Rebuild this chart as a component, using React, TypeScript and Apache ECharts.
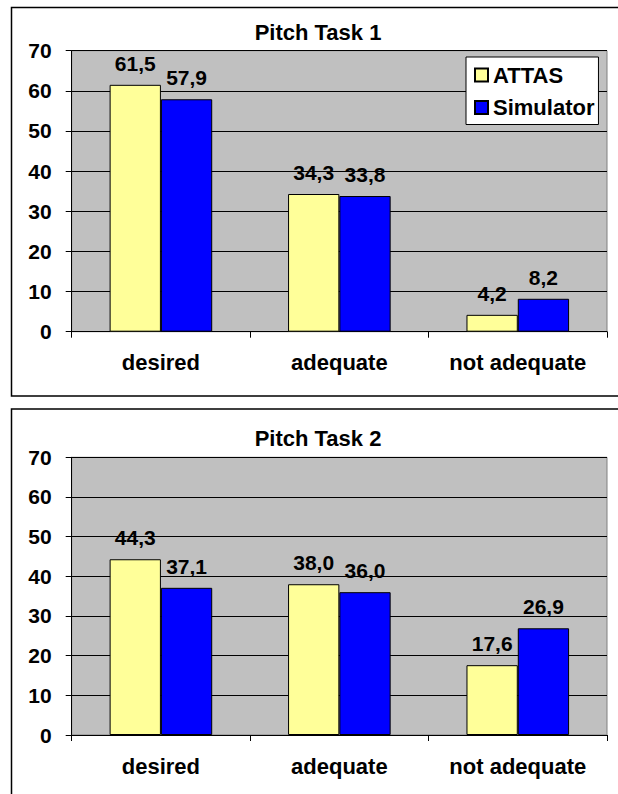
import React, { useEffect, useRef } from "react";
import * as echarts from "echarts";

const categories = ["desired", "adequate", "not adequate"];
const seriesNames = ["ATTAS", "Simulator"];
const task1Attas = [61.5, 34.3, 4.2];
const task1Simulator = [57.9, 33.8, 8.2];
const task2Attas = [44.3, 38.0, 17.6];
const task2Simulator = [37.1, 36.0, 26.9];
const chartTitles = ["Pitch Task 1", "Pitch Task 2"];

const FONT = '"Liberation Sans", Arial, sans-serif';
const ATTAS_COLOR = "#FFFF99";
const SIM_COLOR = "#0000FF";

const fmt = (v: number) => v.toFixed(1).replace(".", ",");

function barSeries(name: string, data: number[], color: string, gridIndex: number) {
  return {
    type: "bar",
    name,
    xAxisIndex: gridIndex,
    yAxisIndex: gridIndex,
    data,
    barGap: "0%",
    barCategoryGap: "42.5%",
    itemStyle: { color, borderColor: "#000", borderWidth: 1 },
    label: {
      show: true,
      position: "top",
      distance: 11,
      formatter: (p: any) => fmt(p.value),
      fontFamily: FONT,
      fontWeight: "bold",
      fontSize: 21,
      color: "#000",
    },
  };
}

function xAxis(gridIndex: number) {
  return {
    type: "category",
    gridIndex,
    data: categories,
    boundaryGap: true,
    axisLine: { show: true, lineStyle: { color: "#000", width: 1 } },
    axisTick: { show: true, length: 6, lineStyle: { color: "#000" } },
    axisLabel: {
      margin: 20,
      fontFamily: FONT,
      fontWeight: "bold",
      fontSize: 22,
      color: "#000",
    },
    splitLine: { show: false },
  };
}

function yAxis(gridIndex: number) {
  return {
    type: "value",
    gridIndex,
    min: 0,
    max: 70,
    interval: 10,
    axisLine: { show: true, lineStyle: { color: "#000", width: 1 } },
    axisTick: { show: true, length: 6, lineStyle: { color: "#000" } },
    axisLabel: {
      margin: 20,
      fontFamily: FONT,
      fontWeight: "bold",
      fontSize: 21,
      color: "#000",
    },
    splitLine: { show: true, lineStyle: { color: "#000", width: 1 } },
  };
}

// Frame lines around each chart panel; the panels run off the right edge
// (and the second one off the bottom edge) of the page.
const frameStyle = { fill: "none", stroke: "#000", lineWidth: 1.5 };

export default function App() {
  const ref = useRef<HTMLDivElement>(null);

  useEffect(() => {
    if (!ref.current) return;
    const chart = echarts.init(ref.current, undefined, { renderer: "svg" });
    chart.setOption({
      animation: false,
      backgroundColor: "#fff",
      grid: [
        {
          left: 71.7,
          right: 11,
          top: 50.7,
          height: 281,
          show: true,
          backgroundColor: "#C0C0C0",
          borderColor: "#808080",
          borderWidth: 1,
        },
        {
          left: 71.7,
          right: 11,
          top: 457.3,
          height: 277.7,
          show: true,
          backgroundColor: "#C0C0C0",
          borderColor: "#808080",
          borderWidth: 1,
        },
      ],
      xAxis: [xAxis(0), xAxis(1)],
      yAxis: [yAxis(0), yAxis(1)],
      legend: {
        data: seriesNames,
        orient: "vertical",
        left: 466,
        top: 57,
        icon: "rect",
        itemWidth: 13,
        itemHeight: 13,
        itemGap: 10.5,
        padding: [7, 4, 6, 8],
        backgroundColor: "#fff",
        borderColor: "#000",
        borderWidth: 1,
        borderRadius: 0,
        textStyle: {
          fontFamily: FONT,
          fontWeight: "bold",
          fontSize: 22,
          color: "#000",
        },
      },
      graphic: [
        {
          type: "polyline",
          shape: { points: [[640, 7.5], [11.5, 7.5], [11.5, 396], [640, 396]] },
          style: frameStyle,
          silent: true,
        },
        {
          type: "polyline",
          shape: { points: [[640, 409], [11.5, 409], [11.5, 820]] },
          style: frameStyle,
          silent: true,
        },
        {
          type: "text",
          x: 318,
          y: 32,
          style: {
            text: chartTitles[0],
            textAlign: "center",
            textVerticalAlign: "middle",
            font: `bold 22px ${FONT}`,
            fill: "#000",
          },
        },
        {
          type: "text",
          x: 318,
          y: 438.5,
          style: {
            text: chartTitles[1],
            textAlign: "center",
            textVerticalAlign: "middle",
            font: `bold 22px ${FONT}`,
            fill: "#000",
          },
        },
      ],
      series: [
        barSeries(seriesNames[0], task1Attas, ATTAS_COLOR, 0),
        barSeries(seriesNames[1], task1Simulator, SIM_COLOR, 0),
        barSeries(seriesNames[0], task2Attas, ATTAS_COLOR, 1),
        barSeries(seriesNames[1], task2Simulator, SIM_COLOR, 1),
      ],
    });
    return () => chart.dispose();
  }, []);

  return (
    <div
      ref={ref}
      style={{ position: "absolute", left: 0, top: 0, width: 618, height: 794 }}
    />
  );
}
